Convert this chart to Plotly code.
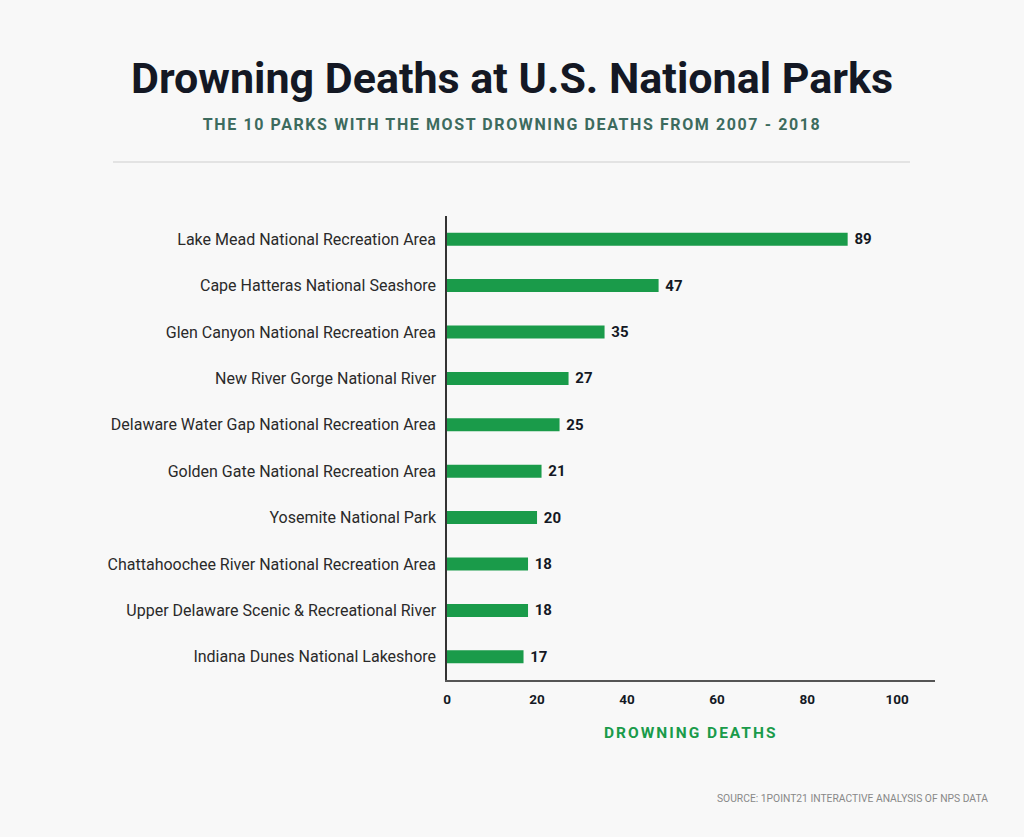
import plotly.graph_objects as go

parks = [
    "Lake Mead National Recreation Area",
    "Cape Hatteras National Seashore",
    "Glen Canyon National Recreation Area",
    "New River Gorge National River",
    "Delaware Water Gap National Recreation Area",
    "Golden Gate National Recreation Area",
    "Yosemite National Park",
    "Chattahoochee River National Recreation Area",
    "Upper Delaware Scenic & Recreational River",
    "Indiana Dunes National Lakeshore",
]
deaths = [89, 47, 35, 27, 25, 21, 20, 18, 18, 17]
x_ticks = [0, 20, 40, 60, 80, 100]

title = "Drowning Deaths at U.S. National Parks"
subtitle = "THE 10 PARKS WITH THE MOST DROWNING DEATHS FROM 2007 - 2018"
x_title = "DROWNING DEATHS"
source = "SOURCE: 1POINT21 INTERACTIVE ANALYSIS OF NPS DATA"

W, H = 1024, 837
BG = "#f8f8f8"
GREEN = "#1a9b4a"
DARK = "#141824"

# plot area in pixels
PL, PR, PT, PB = 447, 935, 216, 680
PW, PH = PR - PL, PB - PT


def px(x):
    return (x - PL) / PW


def py(y):
    return (PB - y) / PH


fig = go.Figure(go.Bar(
    x=deaths, y=parks, orientation="h",
    marker=dict(color=GREEN, line=dict(width=0)),
    width=0.28,
    text=[str(v) for v in deaths], texttemplate="\u00a0%{text}",
    textposition="outside", constraintext="none",
    textfont=dict(family="Roboto", size=15, color=DARK, weight="bold"),
    cliponaxis=False,
))

fig.update_layout(
    width=W, height=H,
    paper_bgcolor=BG, plot_bgcolor=BG,
    margin=dict(l=PL, r=W - PR, t=PT, b=H - PB),
    showlegend=False,
    xaxis=dict(range=[0, 108.4], tickvals=x_ticks, showgrid=False, zeroline=False,
               showline=True, linecolor="#555555", linewidth=2,
               ticks="", ticklen=0, ticklabelstandoff=6,
               tickfont=dict(family="Roboto", size=13.5, color=DARK, weight="bold"),
               fixedrange=True),
    yaxis=dict(categoryorder="array", categoryarray=parks[::-1],
               showgrid=False, zeroline=False, showline=True,
               linecolor="#333333", linewidth=1.5, ticks="", ticklen=0,
               ticklabelstandoff=6,
               tickfont=dict(family="Roboto", size=16, color="#2a2a2a"),
               fixedrange=True),
    font=dict(family="Roboto"),
    shapes=[dict(type="line", xref="paper", yref="paper",
                 x0=px(113), x1=px(910), y0=py(162), y1=py(162),
                 line=dict(color="#dddddd", width=1.5))],
    annotations=[
        dict(text=title, x=px(512), y=py(78), xref="paper", yref="paper",
             showarrow=False, xanchor="center", yanchor="middle",
             font=dict(family="Roboto", size=43, color=DARK, weight="bold")),
        dict(text=subtitle, x=px(512), y=py(124), xref="paper", yref="paper",
             showarrow=False, xanchor="center", yanchor="middle",
             font=dict(family="Roboto", size=16, color="#3d6b5e", weight="bold")),
        dict(text=x_title, x=px(690), y=py(733), xref="paper", yref="paper",
             showarrow=False, xanchor="center", yanchor="middle",
             font=dict(family="Roboto", size=15.5, color=GREEN, weight="bold")),
        dict(text=source, x=px(990), y=py(798), xref="paper", yref="paper",
             showarrow=False, xanchor="right", yanchor="middle",
             font=dict(family="Roboto", size=10.3, color="#888888")),
    ],
)

post = """
document.body.style.margin='0';
document.body.style.background='#f8f8f8';
var t = document.querySelectorAll('.annotation-text');
t.forEach(function(e){
  var s = e.textContent;
  if (s.indexOf('THE 10 PARKS') === 0) { e.style.letterSpacing = '1.6px'; }
  if (s === 'DROWNING DEATHS') { e.style.letterSpacing = '2.0px'; }
});
"""

fig.write_html("out.html", post_script=post, config={"displayModeBar": False})
